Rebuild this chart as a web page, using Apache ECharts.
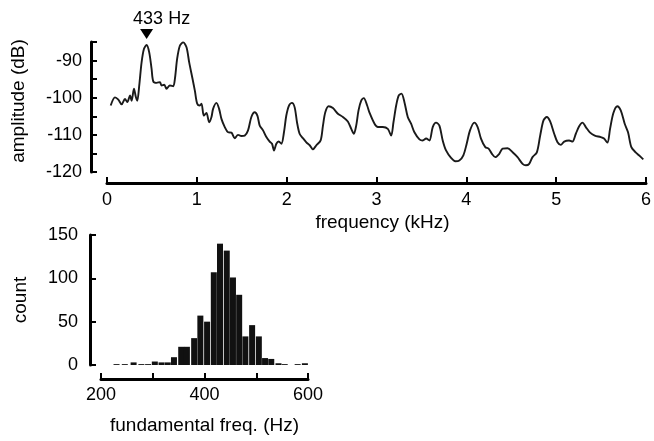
<!DOCTYPE html>
<html>
<head>
<meta charset="utf-8">
<script src="https://cdn.jsdelivr.net/npm/echarts@6/dist/echarts.min.js"></script>
<style>
html,body{margin:0;padding:0;background:#fff;}
#chart{width:654px;height:441px;}
</style>
</head>
<body>
<div id="chart"></div>
<script>
// Spectrum (top panel)
var freqKHz = [0.041,0.089,0.126,0.163,0.2,0.226,0.256,0.274,0.3,0.322,0.337,0.359,0.385,0.411,0.441,0.47,0.496,0.515,0.552,0.589,0.607,0.637,0.663,0.7,0.737,0.756,0.781,0.811,0.848,0.885,0.915,0.952,0.978,1.004,1.033,1.052,1.078,1.107,1.137,1.163,1.181,1.218,1.248,1.274,1.311,1.348,1.385,1.422,1.459,1.496,1.533,1.57,1.607,1.644,1.674,1.7,1.737,1.774,1.811,1.837,1.859,1.885,1.911,1.941,1.97,1.996,2.026,2.059,2.089,2.115,2.144,2.181,2.219,2.256,2.292,2.33,2.378,2.404,2.43,2.467,2.515,2.57,2.626,2.681,2.719,2.748,2.774,2.8,2.83,2.859,2.896,2.922,2.978,3.015,3.07,3.126,3.163,3.189,3.219,3.248,3.278,3.311,3.348,3.385,3.422,3.478,3.515,3.552,3.589,3.626,3.663,3.7,3.737,3.774,3.83,3.878,3.922,3.967,4.004,4.041,4.089,4.126,4.163,4.211,4.248,4.285,4.322,4.367,4.404,4.459,4.515,4.57,4.626,4.663,4.7,4.737,4.785,4.822,4.859,4.896,4.933,4.978,5.015,5.052,5.089,5.144,5.181,5.219,5.256,5.293,5.33,5.378,5.43,5.496,5.533,5.57,5.6,5.637,5.681,5.719,5.763,5.8,5.837,5.885,5.922,5.97];
var amplitudeDB = [-102.1,-99.9,-100.5,-101.8,-100.3,-101.2,-99.4,-100.8,-97.6,-99.9,-100.8,-96.7,-90.5,-86.9,-85.8,-87.8,-92.2,-95.6,-96,-95.8,-96.7,-96.5,-97.6,-96.7,-96.9,-94.9,-89.5,-86,-85.1,-86.4,-90.5,-94.9,-98.1,-101.6,-102.1,-101.6,-104.8,-104.1,-106.6,-105.2,-103,-101.4,-103,-105.7,-107.9,-109.3,-109.4,-110.9,-110,-110.3,-110.2,-108.8,-105.2,-103.9,-104.8,-107.5,-108.8,-110.6,-111.8,-112.4,-114.2,-112.4,-111.8,-112.4,-109.3,-104.8,-102.1,-101.4,-102.6,-106.6,-109.7,-110.9,-112,-112.8,-113.9,-112.8,-111.5,-107.5,-103.9,-102.3,-102.8,-104.3,-105.2,-106.4,-108.4,-109.7,-107.5,-103.4,-100.8,-100.1,-102.1,-104,-107,-107.9,-107.9,-108.4,-110.2,-106.6,-102.1,-99.4,-98.9,-101.2,-105.2,-107,-109.3,-111.2,-111.5,-111,-111.5,-107.9,-106.7,-107.5,-111.5,-114.2,-116.2,-117.1,-116.9,-115.5,-112.4,-108.8,-106.7,-107.9,-111,-113.3,-113.7,-115.1,-116,-115.1,-113.7,-113.6,-114.7,-116,-117.8,-118.2,-117.8,-116,-114.7,-110.2,-106.1,-105.2,-106.4,-109.7,-112,-112.7,-111.8,-111.5,-111.8,-109.7,-107.7,-106.7,-107.9,-109.4,-110.2,-110.6,-111,-112.1,-108.4,-104.1,-102.3,-103.4,-107,-109.3,-113.3,-114.7,-115.5,-116.6];
var peakFreq = 0.441, peakAmp = -85.8, peakLabel = '433 Hz';

// Histogram (bottom panel)
var binCentersHz = [230,246,263,278,291,304,317,329,341,355,366,380,392,405,418,430,443,455,467,479,492,505,517,529,543,555,580,594];
var counts = [1,1,3,1,1,4,3,3,9,21,21,31,57,50,107,140,132,101,81,33,46,33,8,7,2,1,1,2];

var topXTicks = [0,1,2,3,4,5,6];
var topYLabels = [-90,-100,-110,-120];
var botXLabels = [200,400,600];

var FONT = 'Liberation Sans';
var INK = '#000';

var spectrum = freqKHz.map(function(f,i){return [f, amplitudeDB[i]];});
var hist = binCentersHz.map(function(c,i){return [c, counts[i]];});

var axisBase = {
  axisLine:{show:true,onZero:false,lineStyle:{color:INK,width:3}},
  axisTick:{show:true,inside:true,length:6,lineStyle:{color:INK,width:2}},
  splitLine:{show:false},
  nameLocation:'middle',
  nameTextStyle:{fontFamily:FONT,fontSize:19,color:INK}
};
function ext(o){var r=JSON.parse(JSON.stringify(axisBase));for(var k in o){r[k]=o[k];}return r;}

var chart = echarts.init(document.getElementById('chart'),null,{renderer:'canvas'});
chart.setOption({
  backgroundColor:'#fff',
  animation:false,
  grid:[
    {left:107,top:42,width:540,height:130},
    {left:101,top:235,width:207,height:130}
  ],
  xAxis:[
    ext({gridIndex:0,type:'value',min:0,max:6,interval:1,offset:11,
      name:'frequency (kHz)',nameGap:30,
      nameTextStyle:{fontFamily:FONT,fontSize:19,color:INK,padding:[0,0,0,12]},
      axisLabel:{fontFamily:FONT,fontSize:18,color:INK,margin:8,
        formatter:function(v){return topXTicks.indexOf(v)>=0?String(v):'';}}}),
    ext({gridIndex:1,type:'value',min:200,max:600,interval:100,offset:14,
      name:'fundamental freq. (Hz)',nameGap:37,
      axisLabel:{fontFamily:FONT,fontSize:18,color:INK,margin:7,
        formatter:function(v){return botXLabels.indexOf(v)>=0?String(v):'';}}})
  ],
  yAxis:[
    ext({gridIndex:0,type:'value',min:-120,max:-85,interval:5,offset:16,
      name:'amplitude (dB)',nameGap:63,
      nameTextStyle:{fontFamily:FONT,fontSize:19,color:INK,padding:[0,0,0,12]},
      axisLabel:{fontFamily:FONT,fontSize:18,color:INK,margin:9,
        formatter:function(v){return topYLabels.indexOf(v)>=0?String(v):'';}}}),
    ext({gridIndex:1,type:'value',min:0,max:150,interval:50,offset:11,
      name:'count',nameGap:60,
      axisLabel:{fontFamily:FONT,fontSize:18,color:INK,margin:12}})
  ],
  series:[
    {type:'line',xAxisIndex:0,yAxisIndex:0,data:spectrum,showSymbol:false,smooth:0.3,
      lineStyle:{color:'#1a1a1a',width:1.9},
      markPoint:{symbol:'triangle',symbolRotate:180,symbolSize:[13,10],symbolOffset:[0,-11],
        itemStyle:{color:INK},
        label:{show:true,formatter:peakLabel,position:'top',distance:1,offset:[15,0],
          fontFamily:FONT,fontSize:18,color:INK},
        data:[{coord:[peakFreq,peakAmp]}]}},
    {type:'bar',xAxisIndex:1,yAxisIndex:1,data:hist,barWidth:6,
      itemStyle:{color:'#111'}}
  ]
});
</script>
</body>
</html>
